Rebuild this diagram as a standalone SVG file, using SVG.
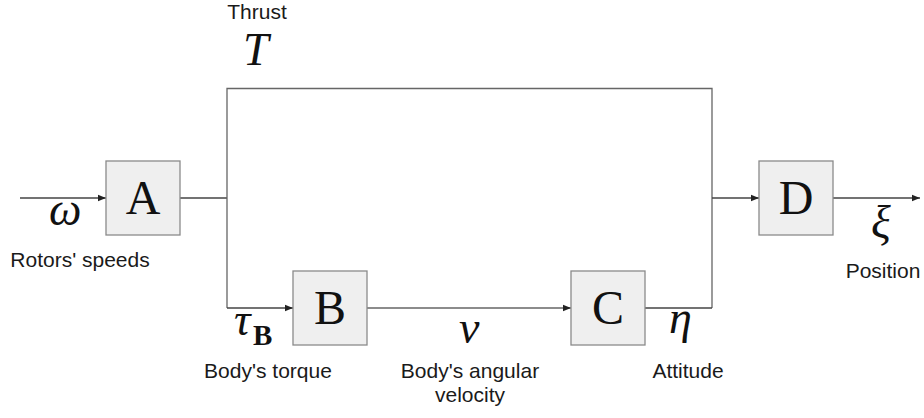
<svg xmlns="http://www.w3.org/2000/svg" width="924" height="418" viewBox="0 0 924 418">
  <style>
    .box { fill: #efefef; stroke: #8a8a8a; stroke-width: 1.3; }
    .blk { font-family: "Liberation Serif", serif; font-size: 48px; fill: #111; text-anchor: middle; }
    .wire { fill: none; stroke: #444; stroke-width: 1.3; }
    .loop { fill: none; stroke: #666; stroke-width: 1.3; }
    .math { font-family: "Liberation Serif", "DejaVu Serif", serif; font-style: italic; font-size: 46px; fill: #111; }
    .lbl { font-family: "Liberation Sans", Arial, sans-serif; font-size: 21px; fill: #1a1a1a; text-anchor: middle; }
  </style>
  <defs>
    <marker id="arr" viewBox="0 0 10 10" refX="10" refY="5" markerWidth="8" markerHeight="8" markerUnits="userSpaceOnUse" orient="auto">
      <path d="M0,1 L10,5 L0,9 z" fill="#222"/>
    </marker>
  </defs>

  <!-- connectors -->
  <g id="connectors">
    <line class="wire" x1="20" y1="198" x2="106" y2="198" marker-end="url(#arr)"/>
    <line class="wire" x1="180" y1="198" x2="227" y2="198"/>
    <polyline class="loop" points="227,308 227,88.5 712,88.5 712,308"/>
    <line class="wire" x1="227" y1="308" x2="293" y2="308" marker-end="url(#arr)"/>
    <line class="loop" x1="367" y1="308" x2="571" y2="308" marker-end="url(#arr)"/>
    <line class="wire" x1="645" y1="308" x2="712" y2="308"/>
    <line class="wire" x1="712" y1="198" x2="759" y2="198" marker-end="url(#arr)"/>
    <line class="wire" x1="833" y1="198" x2="920" y2="198" marker-end="url(#arr)"/>
  </g>

  <!-- blocks -->
  <g id="A">
    <rect class="box" x="106" y="161" width="74" height="74"/>
    <text class="blk" x="143" y="214">A</text>
  </g>
  <g id="B">
    <rect class="box" x="293" y="271" width="74" height="74"/>
    <text class="blk" x="330" y="324">B</text>
  </g>
  <g id="C">
    <rect class="box" x="571" y="271" width="74" height="74"/>
    <text class="blk" x="608" y="324">C</text>
  </g>
  <g id="D">
    <rect class="box" x="759" y="161" width="74" height="74"/>
    <text class="blk" x="796" y="214">D</text>
  </g>

  <!-- signal symbols -->
  <g id="signals">
    <text class="math" x="243" y="65">T</text>
    <text class="math" x="49" y="225">ω</text>
    <text class="math" x="234" y="335">τ</text>
    <text x="253" y="345" style="font-family:'Liberation Serif',serif;font-weight:bold;font-size:29px;fill:#111">B</text>
    <text class="math" x="459" y="343">ν</text>
    <text class="math" x="669" y="333">η</text>
    <text class="math" x="871" y="238">ξ</text>
  </g>

  <!-- signal names -->
  <g id="labels">
    <text class="lbl" x="257" y="19">Thrust</text>
    <text class="lbl" x="80" y="267">Rotors' speeds</text>
    <text class="lbl" x="268" y="378">Body's torque</text>
    <text class="lbl" x="470" y="378">Body's angular</text>
    <text class="lbl" x="470" y="402">velocity</text>
    <text class="lbl" x="688" y="378">Attitude</text>
    <text class="lbl" x="883" y="278">Position</text>
  </g>
</svg>
